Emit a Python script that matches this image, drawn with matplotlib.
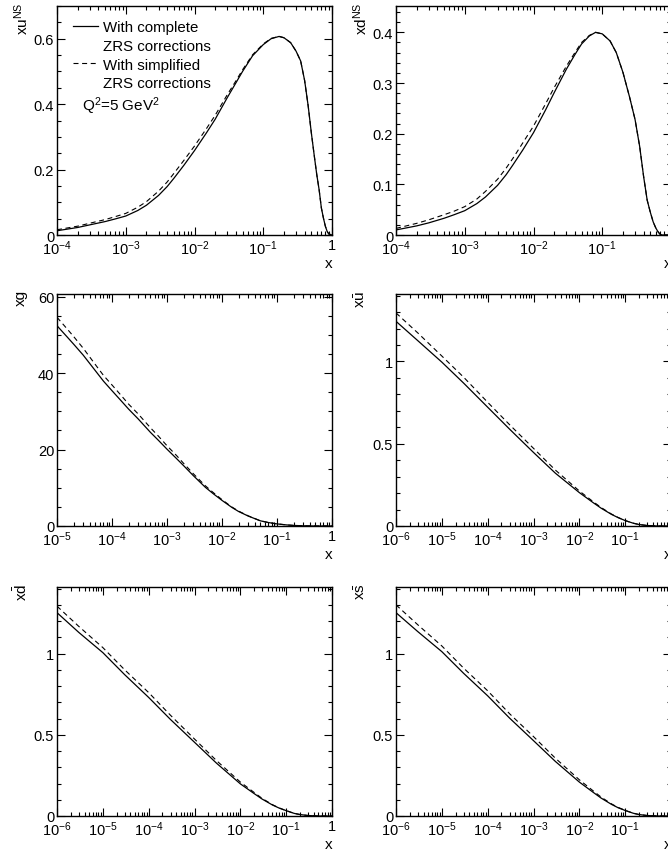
import math
import matplotlib
matplotlib.use('Agg')
import matplotlib.pyplot as plt
from matplotlib.ticker import FixedLocator, MultipleLocator, FuncFormatter, NullFormatter
from matplotlib.lines import Line2D

plt.rcParams['font.family'] = ['Liberation Sans', 'DejaVu Sans']
plt.rcParams['mathtext.fontset'] = 'custom'
plt.rcParams['mathtext.rm'] = 'Liberation Sans'
plt.rcParams['mathtext.it'] = 'Liberation Sans:italic'
plt.rcParams['mathtext.bf'] = 'Liberation Sans:bold'
plt.rcParams['lines.scale_dashes'] = False

# xu^NS  (Q^2 = 5 GeV^2)
x_uns = [1e-4, 2e-4, 3e-4, 5e-4, 7e-4, 1e-3, 1.5e-3, 2e-3, 3e-3, 4e-3, 5e-3, 7e-3,
         1e-2, 1.5e-2, 2e-2, 3e-2, 4e-2, 5e-2, 7e-2, 0.1, 0.13, 0.17, 0.2, 0.25, 0.3,
         0.35, 0.4, 0.45, 0.5, 0.55, 0.6, 0.65, 0.7, 0.75, 0.8, 0.85, 0.9, 1.0]
uns_full = [0.013, 0.023, 0.031, 0.041, 0.049, 0.058, 0.075, 0.091, 0.121, 0.148, 0.173,
            0.213, 0.258, 0.313, 0.354, 0.420, 0.465, 0.500, 0.548, 0.582, 0.600, 0.607,
            0.603, 0.588, 0.562, 0.532, 0.472, 0.395, 0.313, 0.245, 0.185, 0.138, 0.083,
            0.052, 0.027, 0.011, 0.003, 0.0]
uns_simp = [0.016, 0.027, 0.036, 0.047, 0.056, 0.066, 0.085, 0.102, 0.134, 0.162, 0.188,
            0.228, 0.272, 0.326, 0.366, 0.429, 0.471, 0.505, 0.551, 0.584, 0.601, 0.607,
            0.603, 0.588, 0.562, 0.532, 0.472, 0.395, 0.313, 0.245, 0.185, 0.138, 0.083,
            0.052, 0.027, 0.011, 0.003, 0.0]

# xd^NS
x_dns = [1e-4, 2e-4, 3e-4, 5e-4, 7e-4, 1e-3, 1.5e-3, 2e-3, 3e-3, 4e-3, 5e-3, 7e-3,
         1e-2, 1.5e-2, 2e-2, 3e-2, 4e-2, 5e-2, 6.5e-2, 8e-2, 0.1, 0.13, 0.16, 0.2, 0.25,
         0.3, 0.35, 0.4, 0.45, 0.5, 0.55, 0.6, 0.65, 0.7, 0.75, 0.8, 1.0]
dns_full = [0.010, 0.018, 0.024, 0.033, 0.040, 0.048, 0.062, 0.075, 0.098, 0.119, 0.138,
            0.168, 0.202, 0.247, 0.281, 0.327, 0.356, 0.377, 0.393, 0.400, 0.397, 0.383,
            0.360, 0.321, 0.272, 0.228, 0.175, 0.115, 0.069, 0.045, 0.026, 0.014, 0.006,
            0.001, 0.0, 0.0, 0.0]
dns_simp = [0.013, 0.023, 0.030, 0.040, 0.047, 0.056, 0.071, 0.086, 0.110, 0.132, 0.151,
            0.182, 0.215, 0.259, 0.291, 0.333, 0.360, 0.380, 0.394, 0.400, 0.397, 0.383,
            0.360, 0.321, 0.272, 0.228, 0.175, 0.115, 0.069, 0.045, 0.026, 0.014, 0.006,
            0.001, 0.0, 0.0, 0.0]

# xg
x_g = [1e-5, 1.5e-5, 2e-5, 3e-5, 5e-5, 7e-5, 1e-4, 1.5e-4, 2e-4, 3e-4, 5e-4, 7e-4,
       1e-3, 1.5e-3, 2e-3, 3e-3, 5e-3, 7e-3, 1e-2, 1.5e-2, 2e-2, 3e-2, 5e-2, 7e-2, 0.1,
       0.15, 0.2, 0.3, 0.5, 1.0]
g_full = [52.4, 49.6, 47.6, 44.7, 40.6, 37.9, 35.4, 32.6, 30.6, 28.0, 24.5, 22.4, 20.1,
          17.6, 15.8, 13.2, 10.1, 8.4, 6.7, 4.9, 3.8, 2.6, 1.35, 0.9, 0.55, 0.28, 0.15,
          0.05, 0.0, 0.0]
g_simp = [54.6, 51.7, 49.6, 46.5, 42.2, 39.4, 36.9, 34.0, 31.9, 29.3, 25.7, 23.5, 21.0,
          18.4, 16.4, 13.7, 10.5, 8.7, 6.9, 5.0, 3.9, 2.65, 1.35, 0.9, 0.55, 0.28, 0.15,
          0.05, 0.0, 0.0]

# sea quarks
x_sea = [1e-6, 3e-6, 1e-5, 3e-5, 1e-4, 3e-4, 1e-3, 3e-3, 1e-2, 2e-2, 3e-2, 5e-2, 7e-2,
         0.1, 0.15, 0.2, 0.3, 0.5, 1.0]
ubar_full = [1.244, 1.126, 0.996, 0.868, 0.722, 0.589, 0.447, 0.321, 0.203, 0.142, 0.108,
             0.071, 0.051, 0.033, 0.017, 0.009, 0.003, 0.0, 0.0]
ubar_simp = [1.295, 1.173, 1.033, 0.904, 0.752, 0.616, 0.472, 0.340, 0.213, 0.148, 0.112,
             0.073, 0.052, 0.033, 0.017, 0.009, 0.003, 0.0, 0.0]
dbar_full = [1.252, 1.130, 1.006, 0.870, 0.730, 0.594, 0.454, 0.326, 0.198, 0.138, 0.104,
             0.068, 0.049, 0.033, 0.016, 0.009, 0.003, 0.0, 0.0]
dbar_simp = [1.292, 1.167, 1.037, 0.900, 0.760, 0.620, 0.474, 0.342, 0.209, 0.145, 0.108,
             0.070, 0.050, 0.033, 0.016, 0.009, 0.003, 0.0, 0.0]
sbar_full = [1.252, 1.135, 1.012, 0.878, 0.740, 0.603, 0.464, 0.336, 0.209, 0.146, 0.110,
             0.072, 0.051, 0.034, 0.017, 0.009, 0.003, 0.0, 0.0]
sbar_simp = [1.300, 1.177, 1.047, 0.910, 0.771, 0.630, 0.489, 0.356, 0.223, 0.155, 0.116,
             0.075, 0.053, 0.035, 0.017, 0.009, 0.003, 0.0, 0.0]

W, H = 668.0, 853.0
fig = plt.figure(figsize=(W / 100, H / 100), dpi=100)

dash = (0, (3.6, 2.6))


def decade_label(v, pos):
    if v >= 1:
        return '1'
    return '$10^{%d}$' % int(round(math.log10(v)))


def panel(left, top, bottom, x, full, simp, xmin, ymax, ymaj, ymin_step, ylab):
    ax = fig.add_axes([left / W, 1 - bottom / H, 275 / W, (bottom - top) / H])
    ax.plot(x, full, color='black', lw=0.9)
    ax.plot(x, simp, color='black', lw=0.8, linestyle=dash)
    ax.set_xscale('log')
    ax.set_xlim(xmin, 1)
    ax.set_ylim(0, ymax)
    n = int(round(-math.log10(xmin)))
    majors = [10.0 ** (-k) for k in range(n, -1, -1)]
    minors = [m * 10.0 ** (-k) for k in range(n, 0, -1) for m in range(2, 10)]
    ax.xaxis.set_major_locator(FixedLocator(majors))
    ax.xaxis.set_minor_locator(FixedLocator(minors))
    ax.xaxis.set_major_formatter(FuncFormatter(decade_label))
    ax.xaxis.set_minor_formatter(NullFormatter())
    ax.yaxis.set_major_locator(MultipleLocator(ymaj))
    ax.yaxis.set_minor_locator(MultipleLocator(ymin_step))
    ax.yaxis.set_major_formatter(FuncFormatter(lambda v, p: '%g' % v))
    ax.tick_params(which='both', direction='in', top=True, right=True, labelsize=10.5,
                   width=0.8)
    ax.tick_params(which='major', length=5.5)
    ax.tick_params(which='minor', length=2.8)
    ax.tick_params(axis='x', pad=2.5)
    ax.tick_params(axis='y', pad=2.0)
    for s in ax.spines.values():
        s.set_linewidth(1.0)
    ax.text(1.0, -0.09, 'x', transform=ax.transAxes, ha='right', va='top', fontsize=11)
    ax.text(-0.13, 1.02, ylab, transform=ax.transAxes, rotation=90, ha='center',
            va='top', fontsize=11)
    return ax


ax1 = panel(57, 7, 236, x_uns, uns_full, uns_simp, 1e-4, 0.70, 0.2, 0.05,
            r'xu$^{\mathrm{NS}}$')
ax2 = panel(396, 7, 236, x_dns, dns_full, dns_simp, 1e-4, 0.452, 0.1, 0.02,
            r'xd$^{\mathrm{NS}}$')
ax3 = panel(57, 295, 527, x_g, g_full, g_simp, 1e-5, 60.7, 20, 5, 'xg')
ax4 = panel(396, 295, 527, x_sea, ubar_full, ubar_simp, 1e-6, 1.41, 0.5, 0.1,
            r'x$\bar{\mathrm{u}}$')
ax5 = panel(57, 588, 817, x_sea, dbar_full, dbar_simp, 1e-6, 1.41, 0.5, 0.1,
            r'x$\bar{\mathrm{d}}$')
ax6 = panel(396, 588, 817, x_sea, sbar_full, sbar_simp, 1e-6, 1.41, 0.5, 0.1,
            r'x$\bar{\mathrm{s}}$')

handles = [Line2D([], [], color='black', lw=0.9),
           Line2D([], [], color='none'),
           Line2D([], [], color='black', lw=0.8, linestyle=dash),
           Line2D([], [], color='none')]
labels = ['With complete', 'ZRS corrections', 'With simplified', 'ZRS corrections']
ax1.legend(handles, labels, loc='upper left', bbox_to_anchor=(0.058, 0.939),
           frameon=False, fontsize=10.8, handlelength=1.67, handletextpad=0.33,
           labelspacing=0.32, borderpad=0, borderaxespad=0)
ax1.text(0.091, 0.568, r'Q$^{2}$=5 GeV$^{2}$', transform=ax1.transAxes, ha='left',
         va='center', fontsize=11)

fig.savefig('out.png', dpi=100)
